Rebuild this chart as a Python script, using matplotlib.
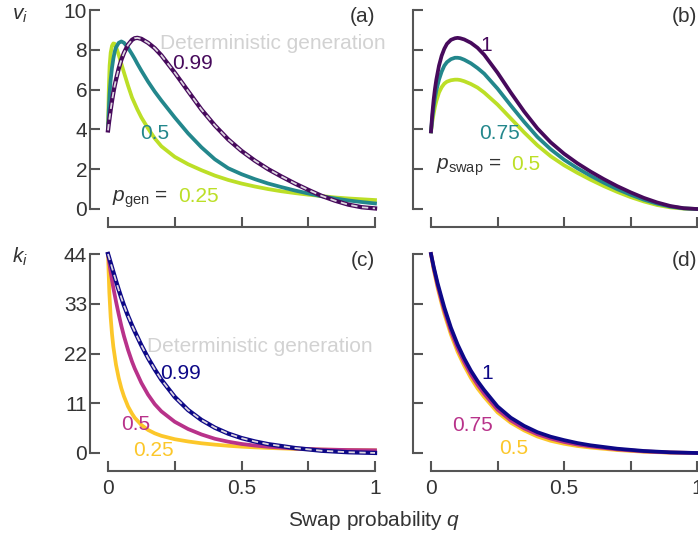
import numpy as np
import matplotlib
matplotlib.use('Agg')
import matplotlib.pyplot as plt

plt.rcParams['font.family'] = ['Liberation Sans', 'DejaVu Sans']
plt.rcParams['mathtext.fontset'] = 'custom'
plt.rcParams['mathtext.rm'] = 'Liberation Sans'
plt.rcParams['mathtext.it'] = 'Liberation Sans:italic'
plt.rcParams['font.size'] = 15

# (a) v_i vs q for several p_gen
q_a = [0, 0.003, 0.006, 0.01, 0.015, 0.02, 0.025, 0.03, 0.04, 0.05, 0.06, 0.075, 0.09, 0.1,
       0.11, 0.125, 0.15, 0.175, 0.2, 0.25, 0.3, 0.35, 0.4, 0.45, 0.5, 0.55, 0.6, 0.65,
       0.7, 0.75, 0.8, 0.85, 0.9, 0.95, 1.0]
v_gen099 = [3.95, 4.3, 4.6, 5.0, 5.45, 5.85, 6.2, 6.5, 7.05, 7.5, 7.85, 8.25, 8.5, 8.58,
            8.6, 8.55, 8.35, 8.08, 7.72, 6.85, 5.92, 5.0, 4.2, 3.5, 2.92, 2.43, 2.0, 1.63,
            1.28, 0.96, 0.66, 0.42, 0.22, 0.09, 0.03]
v_gen05 = [4.0, 5.0, 5.8, 6.5, 7.1, 7.55, 7.9, 8.12, 8.35, 8.42, 8.35, 8.1, 7.78, 7.55,
           7.3, 6.95, 6.4, 5.9, 5.45, 4.6, 3.8, 3.1, 2.5, 2.05, 1.75, 1.5, 1.28, 1.1,
           0.93, 0.78, 0.64, 0.53, 0.43, 0.35, 0.28]
v_gen025 = [4.0, 6.0, 7.2, 7.85, 8.2, 8.32, 8.3, 8.15, 7.75, 7.3, 6.85, 6.2, 5.6, 5.3,
            5.0, 4.6, 4.05, 3.55, 3.15, 2.62, 2.25, 1.95, 1.68, 1.46, 1.28, 1.13, 1.0, 0.89,
            0.8, 0.72, 0.65, 0.58, 0.53, 0.49, 0.45]

# (b) v_i vs q for several p_swap
q_b = [0, 0.005, 0.01, 0.015, 0.02, 0.03, 0.04, 0.05, 0.06, 0.075, 0.09, 0.1, 0.11, 0.125,
       0.15, 0.175, 0.2, 0.25, 0.3, 0.35, 0.4, 0.45, 0.5, 0.55, 0.6, 0.65, 0.7, 0.75,
       0.8, 0.85, 0.9, 0.95, 1.0]
v_swap1 = [3.9, 4.8, 5.5, 6.05, 6.5, 7.2, 7.7, 8.05, 8.3, 8.5, 8.58, 8.6, 8.58, 8.52,
           8.35, 8.1, 7.75, 6.85, 5.85, 4.9, 4.05, 3.35, 2.78, 2.3, 1.88, 1.5, 1.15, 0.84,
           0.56, 0.33, 0.15, 0.04, 0.0]
v_swap075 = [3.9, 4.6, 5.15, 5.6, 5.95, 6.5, 6.9, 7.2, 7.38, 7.53, 7.6, 7.6, 7.58, 7.5,
             7.32, 7.08, 6.8, 6.05, 5.2, 4.38, 3.62, 3.0, 2.48, 2.05, 1.67, 1.32, 1.0, 0.72,
             0.47, 0.27, 0.12, 0.03, 0.0]
v_swap05 = [3.9, 4.4, 4.8, 5.15, 5.42, 5.85, 6.12, 6.3, 6.4, 6.47, 6.5, 6.5, 6.48, 6.42,
            6.28, 6.1, 5.85, 5.25, 4.55, 3.85, 3.2, 2.65, 2.2, 1.82, 1.47, 1.15, 0.86, 0.6,
            0.38, 0.2, 0.08, 0.02, 0.0]

# (c) k_i vs q for several p_gen
q_c = [0, 0.005, 0.01, 0.015, 0.02, 0.03, 0.04, 0.05, 0.06, 0.075, 0.09, 0.1, 0.125, 0.15,
       0.175, 0.2, 0.25, 0.3, 0.35, 0.4, 0.45, 0.5, 0.55, 0.6, 0.7, 0.8, 0.9, 1.0]
k_gen099 = [44, 43.0, 42.0, 41.0, 40.0, 38.0, 36.1, 34.3, 32.6, 30.3, 28.2, 26.9, 23.8, 21.0,
            18.5, 16.2, 12.4, 9.5, 7.3, 5.6, 4.3, 3.3, 2.55, 1.95, 1.1, 0.5, 0.17, 0.02]
k_gen05 = [44, 42, 40, 38.2, 36.5, 33.5, 30.7, 28.1, 25.8, 22.8, 20.2, 18.7, 15.5, 12.9,
           10.8, 9.2, 6.9, 5.3, 4.1, 3.15, 2.5, 2.0, 1.65, 1.38, 1.0, 0.78, 0.66, 0.6]
k_gen025 = [44, 35.5, 30.0, 26.3, 23.5, 19.5, 16.6, 14.3, 12.5, 10.3, 8.7, 7.8, 6.2, 5.1,
            4.35, 3.8, 3.05, 2.55, 2.15, 1.85, 1.6, 1.4, 1.25, 1.12, 0.9, 0.75, 0.65, 0.58]

# (d) k_i vs q for several p_swap
q_d = [0, 0.01, 0.025, 0.04, 0.05, 0.075, 0.1, 0.125, 0.15, 0.175, 0.2, 0.25, 0.3, 0.35,
       0.4, 0.45, 0.5, 0.55, 0.6, 0.7, 0.8, 0.9, 1.0]
k_swap1 = [44, 41.2, 37.5, 34.3, 32.2, 27.7, 24.0, 20.9, 18.2, 15.9, 13.9, 10.3, 7.8, 6.0,
           4.6, 3.6, 2.85, 2.2, 1.7, 0.95, 0.45, 0.15, 0.0]
k_swap075 = [44, 40.9, 37.0, 33.6, 31.5, 26.9, 23.2, 20.1, 17.4, 15.1, 13.1, 9.6, 7.2, 5.45,
             4.15, 3.2, 2.45, 1.88, 1.45, 0.8, 0.36, 0.11, 0.0]
k_swap05 = [44, 40.6, 36.5, 33.0, 30.8, 26.2, 22.4, 19.3, 16.6, 14.3, 12.4, 9.0, 6.7, 5.0,
            3.65, 2.7, 2.05, 1.55, 1.2, 0.65, 0.28, 0.08, 0.0]

purple = '#470a5c'
teal = '#23878c'
lime = '#bcdf27'
navy = '#0d0887'
magenta = '#b8328a'
gold = '#fcc72a'
dgray = '#d2d2d2'
axcol = '#555555'
txtcol = '#333333'

W, H = 698, 538
fig = plt.figure(figsize=(W / 100, H / 100), dpi=100)

def make_ax(x0, x1, ytop, ybot):
    ax = fig.add_axes([x0 / W, 1 - ybot / H, (x1 - x0) / W, (ybot - ytop) / H])
    for s in ['top', 'right']:
        ax.spines[s].set_visible(False)
    for s in ['left', 'bottom']:
        ax.spines[s].set_position(('outward', 13))
        ax.spines[s].set_color(axcol)
        ax.spines[s].set_linewidth(1.5)
    ax.tick_params(direction='in', length=7, width=1.5, color=axcol,
                   labelcolor=txtcol, labelsize=15)
    ax.tick_params(axis='y', pad=2)
    ax.tick_params(axis='x', pad=6)
    ax.set_xlim(0, 1)
    ax.set_xticks([0, 0.25, 0.5, 0.75, 1])
    ax.set_xticklabels(['', '', '', '', ''])
    ax.patch.set_visible(False)
    return ax

ax_a = make_ax(108, 375, 10, 209)
ax_b = make_ax(431, 697, 10, 209)
ax_c = make_ax(108, 375, 254, 453)
ax_d = make_ax(431, 697, 254, 453)

for ax in (ax_a, ax_b):
    ax.set_ylim(0, 10)
    ax.set_yticks([0, 2, 4, 6, 8, 10])
for ax in (ax_c, ax_d):
    ax.set_ylim(0, 44)
    ax.set_yticks([0, 11, 22, 33, 44])
    ax.set_xticklabels(['0', '', '0.5', '', '1'])
ax_b.set_yticklabels([])
ax_d.set_yticklabels([])

lw = 2.7
dash = dict(color='#ddd5e0', lw=1.3, ls=(0, (3.5, 2.5)))

# (a)
ax_a.plot(q_a, v_gen025, color=lime, lw=lw, clip_on=False)
ax_a.plot(q_a, v_gen05, color=teal, lw=lw, clip_on=False)
ax_a.plot(q_a, v_gen099, color=purple, lw=lw + 0.4, clip_on=False)
ax_a.plot(q_a, v_gen099, clip_on=False, **dash)
ax_a.text(0.195, 8.34, 'Deterministic generation', color=dgray, va='center', ha='left')
ax_a.text(0.318, 7.29, '0.99', color=purple, ha='center', va='center')
ax_a.text(0.176, 3.8, '0.5', color=teal, ha='center', va='center')
ax_a.text(0.014, 0.37, r'$p_{\rm gen}$ =', color=txtcol, ha='left', va='baseline')
ax_a.text(0.263, 0.37, '0.25', color=lime, ha='left', va='baseline')

# (b)
ax_b.plot(q_b, v_swap05, color=lime, lw=lw, clip_on=False)
ax_b.plot(q_b, v_swap075, color=teal, lw=lw, clip_on=False)
ax_b.plot(q_b, v_swap1, color=purple, lw=lw, clip_on=False)
ax_b.text(0.209, 8.2, '1', color=purple, ha='center', va='center')
ax_b.text(0.256, 3.8, '0.75', color=teal, ha='center', va='center')
ax_b.text(0.019, 1.96, r'$p_{\rm swap}$ =', color=txtcol, ha='left', va='baseline')
ax_b.text(0.30, 1.96, '0.5', color=lime, ha='left', va='baseline')

# (c)
ax_c.plot(q_c, k_gen025, color=gold, lw=lw, clip_on=False)
ax_c.plot(q_c, k_gen05, color=magenta, lw=lw, clip_on=False)
ax_c.plot(q_c, k_gen099, color=navy, lw=lw + 0.4, clip_on=False)
ax_c.plot(q_c, k_gen099, clip_on=False, **dash)
ax_c.text(0.146, 23.5, 'Deterministic generation', color=dgray, va='center', ha='left')
ax_c.text(0.27, 17.6, '0.99', color=navy, ha='center', va='center')
ax_c.text(0.105, 6.2, '0.5', color=magenta, ha='center', va='center')
ax_c.text(0.169, 0.5, '0.25', color=gold, ha='center', va='center')

# (d)
ax_d.plot(q_d, k_swap05, color=gold, lw=lw, clip_on=False)
ax_d.plot(q_d, k_swap075, color=magenta, lw=lw, clip_on=False)
ax_d.plot(q_d, k_swap1, color=navy, lw=lw, clip_on=False)
ax_d.text(0.212, 17.6, '1', color=navy, ha='center', va='center')
ax_d.text(0.156, 6.0, '0.75', color=magenta, ha='center', va='center')
ax_d.text(0.31, 1.0, '0.5', color=gold, ha='center', va='center')

for ax, lab in zip((ax_a, ax_b, ax_c, ax_d), ('(a)', '(b)', '(c)', '(d)')):
    ax.text(1.0, 0.965, lab, transform=ax.transAxes, ha='right', va='center', color=txtcol)

fig.text(12 / W, 1 - 15 / H, r'$v_i$', ha='left', va='center', color=txtcol, fontsize=15)
fig.text(12 / W, 1 - 257 / H, r'$k_i$', ha='left', va='center', color=txtcol, fontsize=15)
fig.text(374 / W, 1 - 521 / H, r'Swap probability $q$', ha='center', va='center',
         color=txtcol, fontsize=15)

fig.savefig('out.png', dpi=100)
